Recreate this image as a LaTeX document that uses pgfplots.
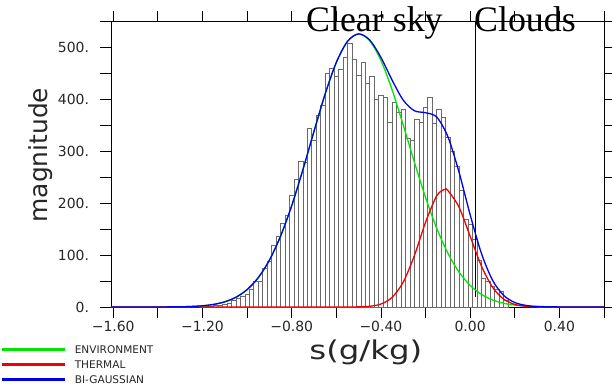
\documentclass[border=0pt]{standalone}
\usepackage{fontspec}
\setmainfont{DejaVu Sans}
\newfontfamily\serifont{Liberation Serif}
\usepackage{graphicx}
\usepackage{pgfplots}
\pgfplotsset{compat=1.18}
\usepackage{pgfplotstable}

\pgfplotstableread{
s v
-1.20 1
-1.18 1
-1.16 2
-1.14 3
-1.12 4
-1.10 6
-1.08 8
-1.06 12
-1.04 17
-1.02 20
-1.00 25
-0.98 34
-0.96 50
-0.94 49
-0.92 74
-0.90 87
-0.88 118
-0.86 136
-0.84 161
-0.82 177
-0.80 215
-0.78 246
-0.76 281
-0.74 279
-0.72 344
-0.70 321
-0.68 369
-0.66 388
-0.64 450
-0.62 459
-0.60 443
-0.58 457
-0.56 480
-0.54 507
-0.52 477
-0.50 445
-0.48 470
-0.46 430
-0.44 444
-0.42 400
-0.40 408
-0.38 404
-0.36 355
-0.34 393
-0.32 374
-0.30 380
-0.28 324
-0.26 321
-0.24 361
-0.22 356
-0.20 385
-0.18 404
-0.16 353
-0.14 380
-0.12 365
-0.10 326
-0.08 299
-0.06 270
-0.04 225
-0.02 169
0.00 159
0.02 130
0.04 90
0.06 55
0.08 49
0.10 40
0.12 34
0.14 31
0.16 12
}\histdata

\pgfplotstableread{
s v
-1.61 0
-1.50 0.01
-1.40 0.07
-1.30 0.45
-1.25 1.07
-1.20 2.37
-1.15 4.99
-1.10 9.94
-1.05 18.7
-1.00 33.4
-0.95 56.3
-0.90 90.0
-0.85 136.1
-0.80 194.7
-0.75 263.7
-0.70 337.8
-0.65 409.7
-0.60 470.3
-0.55 510.7
-0.50 525
-0.45 511.9
-0.40 474.3
-0.35 417.9
-0.30 349.9
-0.25 278.5
-0.20 210.7
-0.15 151.5
-0.10 103.6
-0.05 67.3
0.00 41.6
0.05 24.4
0.10 13.6
0.15 7.2
0.20 3.64
0.25 1.74
0.30 0.79
0.40 0.14
0.50 0.02
0.60 0
}\envdata

\pgfplotstableread{
s v
-1.61 0
-0.60 0
-0.55 0.05
-0.50 0.27
-0.45 1.4
-0.40 5.7
-0.35 18.5
-0.30 47.9
-0.25 98.9
-0.20 162.9
-0.15 213.8
-0.115 226
-0.10 224.1
-0.05 192.1
0.00 135.9
0.05 79.3
0.10 38.2
0.15 15.2
0.20 5.0
0.25 1.34
0.30 0.3
0.35 0.05
0.60 0
}\thermdata

\pgfplotstableread{
s v
-1.61 0
-1.50 0.01
-1.40 0.07
-1.30 0.45
-1.25 1.07
-1.20 2.37
-1.15 4.99
-1.10 9.94
-1.05 18.7
-1.00 33.4
-0.95 56.3
-0.90 90.0
-0.85 136.1
-0.80 194.7
-0.75 263.7
-0.70 337.8
-0.65 409.7
-0.60 470.3
-0.55 510.8
-0.50 525.3
-0.45 513.3
-0.40 480.0
-0.35 436.4
-0.30 397.8
-0.25 377.4
-0.20 373.6
-0.15 365.3
-0.10 327.7
-0.05 259.4
0.00 177.5
0.05 103.7
0.10 51.8
0.15 22.4
0.20 8.64
0.25 3.08
0.30 1.09
0.40 0.14
0.50 0.02
0.60 0
}\bidata

\definecolor{envgreen}{RGB}{0,230,0}
\definecolor{thermred}{RGB}{240,0,0}
\definecolor{biblue}{RGB}{0,0,235}

\begin{document}
\begin{tikzpicture}
\begin{axis}[
  at={(0,0)}, anchor=south west, scale only axis,
  width=493bp, height=286bp,
  xmin=-1.61, xmax=0.60, ymin=0, ymax=550,
  clip=false,
  axis line style={line width=0.8bp},
  tick style={line width=0.8bp, black},
  tick align=outside,
  major tick length=10.5bp,
  xtick={-1.6,-1.4,-1.2,-1.0,-0.8,-0.6,-0.4,-0.2,0,0.2,0.4,0.6},
  xticklabels={−1.60,,−1.20,,−0.80,,−0.40,,0.00,,0.40,},
  ytick={0,50,100,150,200,250,300,350,400,450,500,550},
  yticklabels={0.,,100.,,200.,,300.,,400.,,500.,},
  ticklabel style={font=\fontsize{14}{16}\selectfont, text=black!85},
  yticklabel style={xshift=-8bp},
  xlabel={\scalebox{1.25}[1]{s(g/kg)}},
  ylabel={magnitude},
  xlabel style={at={(axis description cs:0.517,-0.182)}, anchor=base, font=\fontsize{26}{30}\selectfont, text=black!85},
  ylabel style={at={(axis description cs:-0.1298,0.531)}, anchor=base, font=\fontsize{25}{29}\selectfont, text=black!85},
  legend style={at={(axis description cs:-0.2211,-0.136)}, anchor=north west, draw=none, fill=none,
    inner sep=0pt, outer sep=0pt, row sep=7.3bp,
    font=\fontsize{10.6}{12}\selectfont,
    nodes={inner sep=0pt, text height=7.7bp, text depth=0bp, text=black!85},
    /tikz/every odd column/.append style={column sep=9.5bp}},
  legend cell align=left,
]
\addplot[ybar, bar width=0.02, bar shift=0pt, draw={rgb,255:red,105;green,105;blue,105}, fill=white, line width=0.6bp, forget plot] table[x=s, y=v] {\histdata};
\addplot[black, line width=0.9bp, forget plot] coordinates {(0.025,19) (0.025,550)};
\addplot[color=envgreen, line width=1.3bp, smooth,
  legend image code/.code={\fill[envgreen] (0bp,-0.6bp) rectangle (62bp,0.6bp);}] table[x=s, y=v] {\envdata};
\addlegendentry{ENVIRONMENT}
\addplot[color=thermred, line width=1.3bp, smooth,
  legend image code/.code={\fill[thermred] (0bp,-0.6bp) rectangle (62bp,0.6bp);}] table[x=s, y=v] {\thermdata};
\addlegendentry{THERMAL}
\addplot[color=biblue, line width=1.3bp, smooth,
  legend image code/.code={\fill[biblue] (0bp,-0.6bp) rectangle (62bp,0.6bp);}] table[x=s, y=v] {\bidata};
\addlegendentry{BI-GAUSSIAN}
\node[anchor=base west, font=\serifont\fontsize{36}{40}\selectfont, inner sep=0pt] at (axis cs:-0.736,529.4) {Clear sky};
\node[anchor=base west, font=\serifont\fontsize{36}{40}\selectfont, inner sep=0pt] at (axis cs:0.017,529.4) {Clouds};
\end{axis}
\pgfresetboundingbox
\useasboundingbox (-111bp,-80bp) rectangle (501bp,307bp);
\end{tikzpicture}
\end{document}
